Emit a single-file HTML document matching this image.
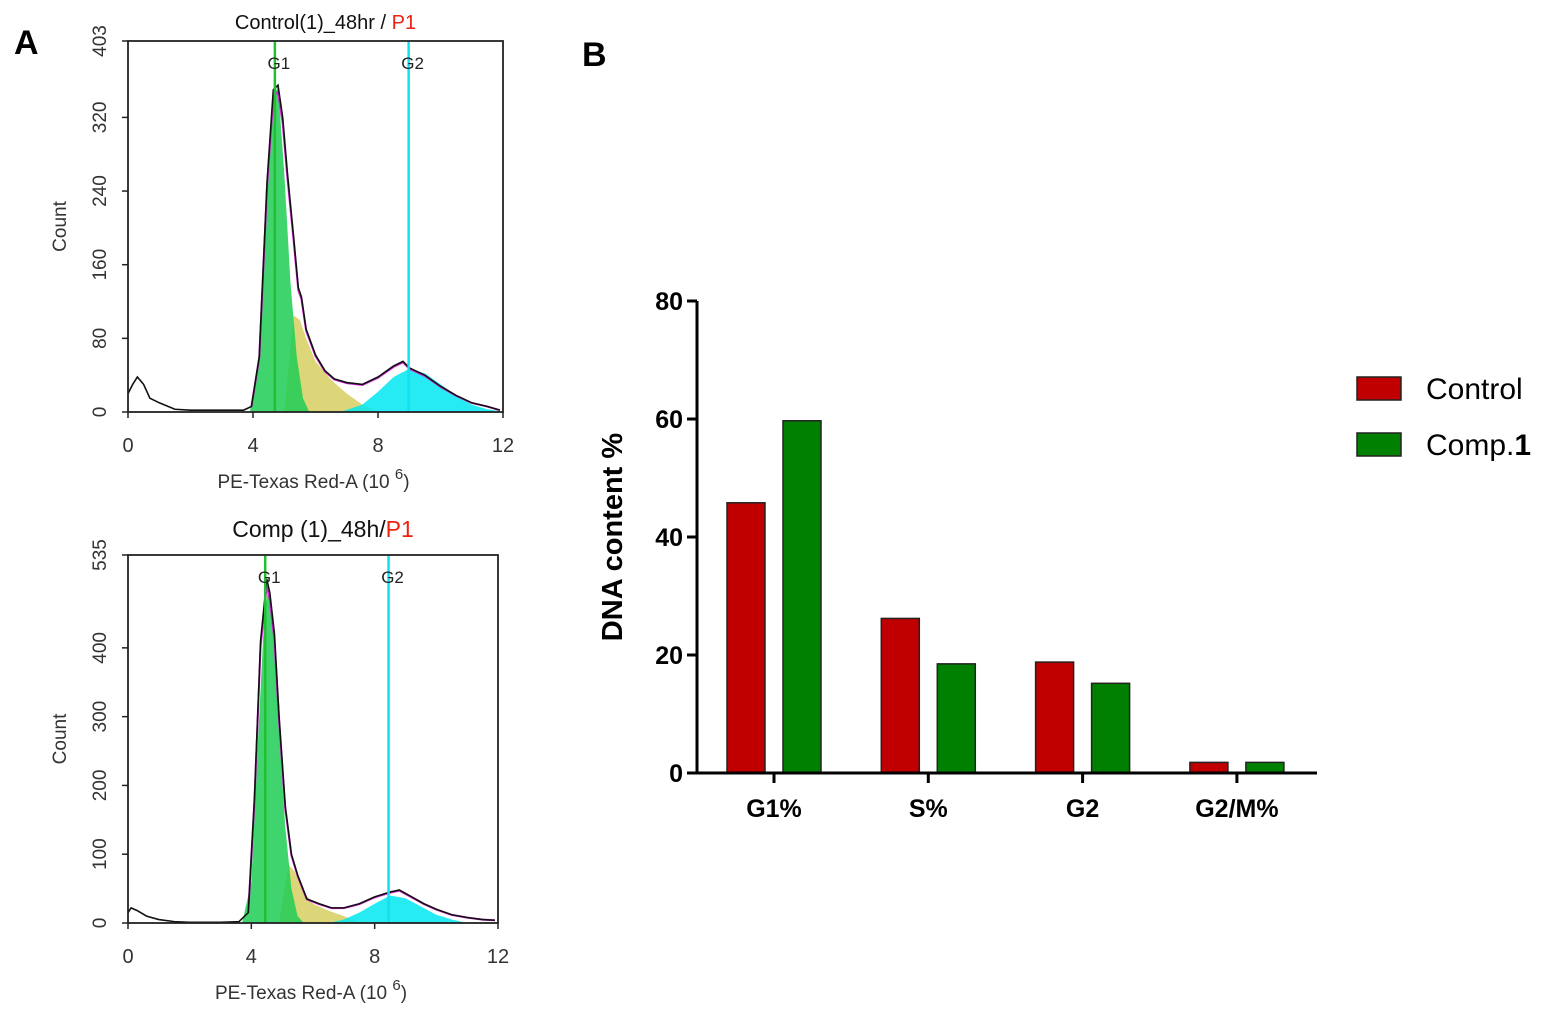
<!DOCTYPE html>
<html><head><meta charset="utf-8"><style>
body{margin:0;background:#fff;width:1558px;height:1016px;overflow:hidden}
svg{font-family:"Liberation Sans",Arial,sans-serif}
</style></head><body>
<svg id="s" width="1558" height="1016" xmlns="http://www.w3.org/2000/svg">
<text x="14" y="54" font-size="34" font-weight="bold">A</text>
<text x="582" y="66" font-size="34" font-weight="bold">B</text>
<g id="h1"></g>
<g id="h2"></g>
<g id="bar"></g>
</svg>
<script>
// ---- Histogram data ----
const ctrlX = [0,0.15,0.3,0.5,0.7,1,1.5,2,3,3.7,3.95,4.2,4.45,4.65,4.8,4.95,5.1,5.3,5.45,5.55,5.7,6,6.3,6.6,7,7.5,8,8.5,8.8,9,9.5,10,10.5,11,11.5,11.9];
const ctrlY = [20,30,38,30,15,10,3,2,2,2,6,60,250,350,355,320,260,190,135,125,90,62,45,36,32,30,38,50,55,48,40,28,18,10,6,2];
const ctrlG1X = [3.9,4.2,4.45,4.65,4.8,5.0,5.2,5.4,5.6,5.8];
const ctrlG1Y = [0,60,240,340,355,260,140,60,15,0];
const ctrlSX = [5.0,5.3,5.5,5.7,6,6.5,7,7.5,8];
const ctrlSY = [0,105,100,80,55,35,20,8,0];
const ctrlG2X = [6.8,7.5,8,8.5,9,9.5,10,10.5,11,11.5,11.9];
const ctrlG2Y = [0,8,22,38,47,42,30,18,8,3,1];
const compX = [0,0.1,0.3,0.6,1,1.5,2,3,3.6,3.9,4.1,4.3,4.5,4.6,4.75,4.9,5.1,5.3,5.5,5.8,6.2,6.6,7,7.5,8,8.5,8.8,9.2,9.6,10,10.5,11,11.5,11.9];
const compY = [15,22,18,10,5,2,1,1,2,15,180,410,500,480,420,300,170,100,70,35,28,22,22,28,38,45,48,38,28,20,12,8,5,4];
const compG1X = [3.7,4.0,4.2,4.4,4.55,4.7,4.9,5.1,5.3,5.5,5.7];
const compG1Y = [0,60,250,430,490,430,280,140,50,10,0];
const compSX = [4.9,5.2,5.4,5.7,6,6.5,7,7.5];
const compSY = [0,85,75,45,28,18,10,0];
const compG2X = [6.5,7,7.5,8,8.5,9,9.5,10,10.5,11];
const compG2Y = [0,5,15,28,40,36,24,12,5,0];

function mk(tag, attrs, parent){const e=document.createElementNS('http://www.w3.org/2000/svg',tag);for(const k in attrs)e.setAttribute(k,attrs[k]);parent.appendChild(e);return e;}

function hist(g, L, R, T, B, ymax, yticks, title1, title2, titleSize, titleY, xs, ys, g1x, g1y, sx, sy, g2x, g2y, g1pos, g2pos){
  const X=v=>L+(R-L)*v/12, Y=v=>B-(B-T)*v/ymax;
  const area=(ax,ay,fill,name)=>{let d='M'+X(ax[0])+','+B;ax.forEach((v,i)=>d+=' L'+X(v)+','+Y(ay[i]));d+=' L'+X(ax[ax.length-1])+','+B+'Z';
    const p=mk('path',{d,fill,opacity:0.85},g);
    
    };
  area(sx,sy,'#d6cf60','s-phase-fill');
  area(g2x,g2y,'#00e8f0','g2-fill');
  area(g1x,g1y,'#1fcc55','g1-fill');
  let d='';xs.forEach((v,i)=>d+=(i?' L':'M')+X(v)+','+Y(ys[i]));
  const mg=mk('path',{d:'M'+xs.map((v,i)=>X(v)+','+Y(ys[i]*0.98)).filter((_,i)=>xs[i]>=3.9).join(' L'),fill:'none',stroke:'#e020e0','stroke-width':2},g);
  
  
  const ln=mk('path',{d,fill:'none',stroke:'#111','stroke-width':1.6},g);
  
  
  [[g1pos,'#22c030','G1'],[g2pos,'#10e0f0','G2']].forEach(([p,c,t])=>{
    const l=mk('line',{x1:X(p),x2:X(p),y1:T,y2:B,stroke:c,'stroke-width':2.5},g);
    
    
    const tx=mk('text',{x:X(p)+4,y:T+28,'font-size':17,'text-anchor':'middle',fill:'#222'},g);tx.textContent=t;
    
    
  });
  const fr=mk('rect',{x:L,y:T,width:R-L,height:B-T,fill:'none',stroke:'#222','stroke-width':1.8},g);
  
  
  yticks.forEach(v=>{const y=Y(v);mk('line',{x1:L-6,x2:L,y1:y,y2:y,stroke:'#222','stroke-width':1.5},g);
    const t=mk('text',{transform:`translate(${L-22},${y}) rotate(-90)`,'font-size':19,'text-anchor':'middle',fill:'#333'},g);t.textContent=v;
    
    });
  [0,4,8,12].forEach(v=>{const x=X(v);mk('line',{x1:x,x2:x,y1:B,y2:B+6,stroke:'#222','stroke-width':1.5},g);
    const t=mk('text',{x,y:B+40,'font-size':20,'text-anchor':'middle',fill:'#333'},g);t.textContent=v;
    
    });
  const yt=mk('text',{transform:`translate(${L-62},${(T+B)/2}) rotate(-90)`,'font-size':19,'text-anchor':'middle',fill:'#333'},g);yt.textContent='Count';
  
  
  const xt=mk('text',{x:(L+R)/2-2,y:B+76,'font-size':19,'text-anchor':'middle',fill:'#333'},g);
  xt.innerHTML='PE-Texas Red-A  (10 <tspan dy="-9" font-size="15">6</tspan><tspan dy="9">)</tspan>';
  
  
  const tt=mk('text',{x:(L+R)/2+10,y:titleY,'font-size':titleSize,'text-anchor':'middle',fill:'#111'},g);
  tt.innerHTML=title1+'<tspan fill="#e21">'+title2+'</tspan>';
  
  
}
hist(document.getElementById('h1'),128,503,41,412,403,[0,80,160,240,320,403],'Control(1)_48hr / ','P1',20,29,ctrlX,ctrlY,ctrlG1X,ctrlG1Y,ctrlSX,ctrlSY,ctrlG2X,ctrlG2Y,4.7,8.98);
hist(document.getElementById('h2'),128,498,555,923,535,[0,100,200,300,400,535],'Comp (1)_48h/','P1',23,537,compX,compY,compG1X,compG1Y,compSX,compSY,compG2X,compG2Y,4.45,8.45);

// ---- Bar chart data ----
const categories = ['G1%','S%','G2','G2/M%'];
const controlVals = [45.8,26.2,18.8,1.8];
const compVals = [59.7,18.5,15.2,1.8];
const yTicks = [0,20,40,60,80];

(function(){
  const g=document.getElementById('bar');
  const L=697,R=1317,B=773,T=301,ymax=80;
  const Y=v=>B-(B-T)*v/ymax;
  const step=154.3, c0=774;
  const X=i=>c0+i*step;
  categories.forEach((c,i)=>{
    [[controlVals[i],'#c00000',-47,'control'],[compVals[i],'#008000',9,'comp1']].forEach(([v,col,off,n])=>{
      const r=mk('rect',{x:X(i)+off,y:Y(v),width:38,height:B-Y(v),fill:col,stroke:'#222','stroke-width':1.5},g);
      
      
    });
    mk('line',{x1:X(i),x2:X(i),y1:B,y2:B+10,stroke:'#000','stroke-width':3},g);
    const t=mk('text',{x:X(i),y:B+44,'font-size':25,'font-weight':'bold','text-anchor':'middle'},g);t.textContent=c;
    
    
  });
  const ax=mk('path',{d:`M${L},${T} L${L},${B} L${R},${B}`,fill:'none',stroke:'#000','stroke-width':3},g);
  
  
  yTicks.forEach(v=>{const y=Y(v);mk('line',{x1:L-10,x2:L,y1:y,y2:y,stroke:'#000','stroke-width':3},g);
    const t=mk('text',{x:L-14,y:y+9,'font-size':25,'font-weight':'bold','text-anchor':'end'},g);t.textContent=v;
    
    });
  const yt=mk('text',{transform:`translate(622,537) rotate(-90)`,'font-size':29,'font-weight':'bold','text-anchor':'middle'},g);yt.textContent='DNA content %';
  
  
  [['#c00000','Control',377,'legend-control'],['#008000','Comp.',433,'legend-comp1']].forEach(([c,t,y,n])=>{
    const r=mk('rect',{x:1357,y,width:44,height:23,fill:c,stroke:'#222','stroke-width':1.5},g);
    
    
    const tx=mk('text',{x:1426,y:y+22,'font-size':30},g);
    tx.innerHTML=t+(n==='legend-comp1'?'<tspan font-weight="bold">1</tspan>':'');
    
    
  });
})();
</script>
</body></html>
